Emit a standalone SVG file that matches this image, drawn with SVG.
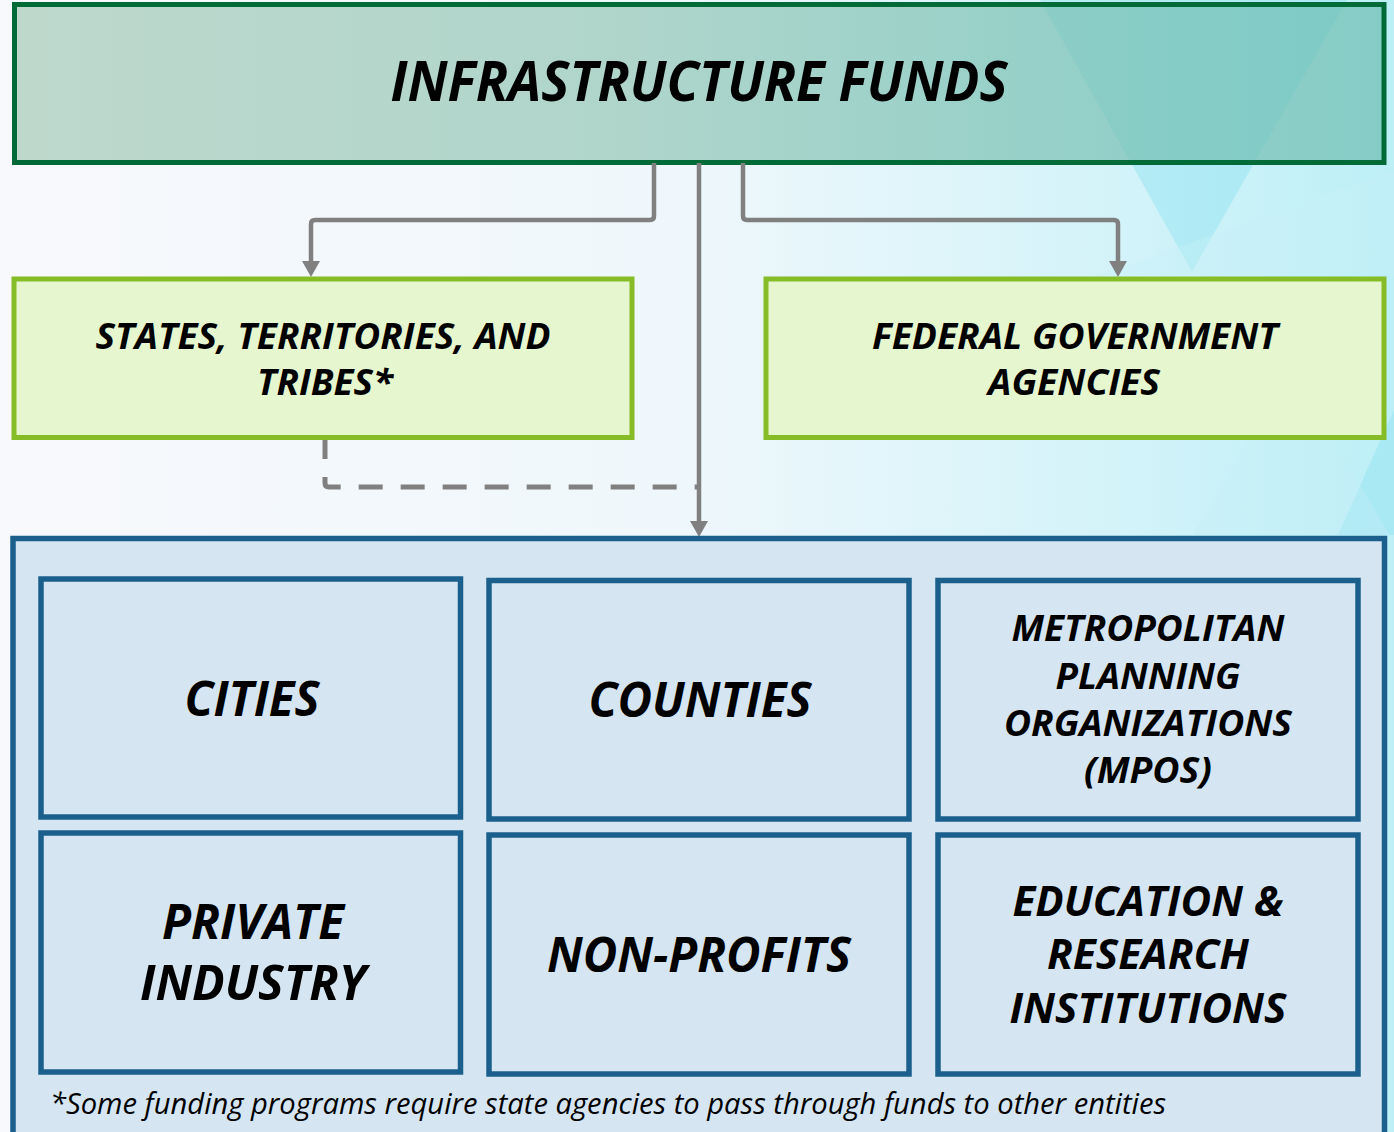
<svg xmlns="http://www.w3.org/2000/svg" width="1394" height="1132" viewBox="0 0 1394 1132">
  <defs>
    <linearGradient id="bg" x1="0" y1="0" x2="1" y2="0">
      <stop offset="0" stop-color="#f8f9fc"/>
      <stop offset="0.5" stop-color="#eef7fb"/>
      <stop offset="0.8" stop-color="#d3f3f9"/>
      <stop offset="1" stop-color="#bdeff7"/>
    </linearGradient>
    <linearGradient id="hdr" x1="0" y1="0" x2="1" y2="0">
      <stop offset="0" stop-color="#bed8cc"/>
      <stop offset="0.45" stop-color="#afd5cb"/>
      <stop offset="0.7" stop-color="#9ad1c9"/>
      <stop offset="1" stop-color="#86ccc6"/>
    </linearGradient>
    <clipPath id="hdrclip">
      <rect x="17" y="7" width="1364.5" height="153"/>
    </clipPath>
    <marker id="arrow" viewBox="0 0 16 18" refX="0" refY="9" markerWidth="16" markerHeight="18" markerUnits="userSpaceOnUse" orient="auto">
      <path d="M0,0 L16,9 L0,18 z" fill="#808080"/>
    </marker>
    <style>
      .t { font-family: "Open Sans", "DejaVu Sans", sans-serif; font-weight: bold; font-style: italic; fill: #000; text-anchor: middle; }
      .green { fill: #e6f6cf; stroke: #86bc25; stroke-width: 5; }
      .blue { fill: #d5e6f2; stroke: #1b5f8c; stroke-width: 5.5; }
      .conn { fill: none; stroke: #808080; stroke-width: 4.5; }
      .dash { fill: none; stroke: #808080; stroke-width: 5; stroke-dasharray: 24 18; stroke-dashoffset: 5; }
      .note { font-family: "Open Sans", "DejaVu Sans", sans-serif; font-style: italic; fill: #000; }
    </style>
  </defs>

  <!-- background -->
  <rect x="0" y="0" width="1394" height="1132" fill="url(#bg)"/>
  <polygon points="1040,0 1347,0 1192,272" fill="#8fe2ef" opacity="0.45"/>
  <polygon points="1394,410 1394,535 1338,535" fill="#9fe7f2" opacity="0.7"/>
  <polygon points="1193,535 1290,370 1390,535" fill="#c6eef6" opacity="0.35"/>
  <polygon points="1100,275 1394,275 1394,170" fill="#c9f1f8" opacity="0.4"/>

  <!-- header node -->
  <g id="node-infrastructure-funds">
    <rect x="14.5" y="4.5" width="1369.5" height="158" fill="url(#hdr)" stroke="#006b37" stroke-width="5"/>
    <g clip-path="url(#hdrclip)">
      <polygon points="1040,0 1347,0 1192,272" fill="#4fbdbd" opacity="0.14"/>
    </g>
    <text class="t" x="699" y="101" font-size="56" textLength="617" lengthAdjust="spacingAndGlyphs">INFRASTRUCTURE FUNDS</text>
  </g>

  <!-- connectors -->
  <g id="connectors">
    <path class="conn" d="M654,163 V216 Q654,220 650,220 H315 Q311,220 311,224 V261" marker-end="url(#arrow)"/>
    <path class="conn" d="M743,163 V216 Q743,220 747,220 H1114 Q1118,220 1118,224 V261" marker-end="url(#arrow)"/>
    <path class="conn" d="M699,163 V521" marker-end="url(#arrow)"/>
    <path class="dash" d="M325,440 V483 Q325,487 329,487 H697"/>
  </g>

  <!-- states node -->
  <g id="node-states">
    <rect class="green" x="14" y="279" width="618" height="158.5"/>
    <text class="t" x="323" y="349" font-size="36" textLength="455" lengthAdjust="spacingAndGlyphs">STATES, TERRITORIES, AND</text>
    <text class="t" x="325" y="395" font-size="36" textLength="136" lengthAdjust="spacingAndGlyphs">TRIBES*</text>
  </g>

  <!-- federal node -->
  <g id="node-federal">
    <rect class="green" x="766" y="279" width="618" height="158.5"/>
    <text class="t" x="1075" y="349" font-size="36" textLength="406" lengthAdjust="spacingAndGlyphs">FEDERAL GOVERNMENT</text>
    <text class="t" x="1074" y="395" font-size="36" textLength="172" lengthAdjust="spacingAndGlyphs">AGENCIES</text>
  </g>

  <!-- recipients container -->
  <g id="node-recipients">
    <rect class="blue" x="13" y="538.5" width="1371.5" height="640"/>
  </g>

  <g id="node-cities">
    <rect class="blue" x="41" y="579" width="419.5" height="238"/>
    <text class="t" x="252" y="716" font-size="48" textLength="135" lengthAdjust="spacingAndGlyphs">CITIES</text>
  </g>

  <g id="node-counties">
    <rect class="blue" x="489" y="580.5" width="420" height="238.5"/>
    <text class="t" x="700" y="717" font-size="48" textLength="223" lengthAdjust="spacingAndGlyphs">COUNTIES</text>
  </g>

  <g id="node-mpos">
    <rect class="blue" x="938" y="580.5" width="420" height="238.5"/>
    <text class="t" x="1148" y="641" font-size="36" textLength="273" lengthAdjust="spacingAndGlyphs">METROPOLITAN</text>
    <text class="t" x="1148" y="689" font-size="36" textLength="185" lengthAdjust="spacingAndGlyphs">PLANNING</text>
    <text class="t" x="1148" y="736" font-size="36" textLength="288" lengthAdjust="spacingAndGlyphs">ORGANIZATIONS</text>
    <text class="t" x="1148" y="783" font-size="36" textLength="128" lengthAdjust="spacingAndGlyphs">(MPOS)</text>
  </g>

  <g id="node-private-industry">
    <rect class="blue" x="41" y="833" width="419.5" height="239"/>
    <text class="t" x="253" y="939" font-size="48" textLength="182" lengthAdjust="spacingAndGlyphs">PRIVATE</text>
    <text class="t" x="253" y="1000" font-size="48" textLength="226" lengthAdjust="spacingAndGlyphs">INDUSTRY</text>
  </g>

  <g id="node-non-profits">
    <rect class="blue" x="489" y="835" width="420" height="239"/>
    <text class="t" x="699" y="972" font-size="48" textLength="304" lengthAdjust="spacingAndGlyphs">NON-PROFITS</text>
  </g>

  <g id="node-education">
    <rect class="blue" x="938" y="835" width="420" height="239"/>
    <text class="t" x="1148" y="916" font-size="42" textLength="271" lengthAdjust="spacingAndGlyphs">EDUCATION &amp;</text>
    <text class="t" x="1148" y="969" font-size="42" textLength="202" lengthAdjust="spacingAndGlyphs">RESEARCH</text>
    <text class="t" x="1148" y="1023" font-size="42" textLength="277" lengthAdjust="spacingAndGlyphs">INSTITUTIONS</text>
  </g>

  <text class="note" x="50" y="1114" font-size="30" textLength="1116" lengthAdjust="spacingAndGlyphs">*Some funding programs require state agencies to pass through funds to other entities</text>
</svg>
